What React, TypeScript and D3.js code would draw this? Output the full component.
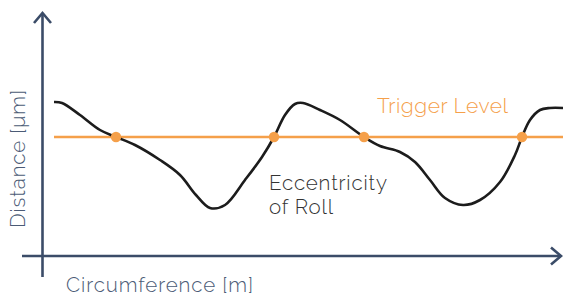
import React from 'react';
import * as d3 from 'd3';

// circumference position (px-ish units along the roll) and distance readings
const circumference = [12, 20, 38, 58, 74, 93, 118, 138, 154, 168, 183, 203, 220, 232, 243, 253, 261, 278, 298, 322, 338, 358, 373, 388, 403, 421, 438, 458, 473, 480, 488, 498, 508, 521];
const distance = [154, 153, 141, 126, 119, 111, 96, 81, 61, 48, 51, 76, 99, 119, 141, 152, 153, 146, 136, 119, 110, 104, 94, 76, 58, 51, 56, 74, 101, 119, 136, 146, 148, 148];
const triggerLevel = 119;
const crossings = [74, 232, 322, 480];

const W = 563, H = 297;
const axisColor = '#3b4c68';
const orange = '#f5a04a';
const font = 'Raleway, Lato, "Open Sans", sans-serif';

const App = () => {
  const x = d3.scaleLinear().domain([0, 520]).range([42, 562]);
  const y = d3.scaleLinear().domain([0, 250]).range([256, 6]);

  const line = d3.line<number>()
    .x((d, i) => x(circumference[i]))
    .y(d => y(d))
    .curve(d3.curveCatmullRom.alpha(0.5));

  return (
    <svg width={W} height={H} style={{ position: 'absolute', left: 0, top: 0 }}>
      {/* trigger level */}
      <line x1={x(12)} x2={W} y1={y(triggerLevel)} y2={y(triggerLevel)} stroke={orange} strokeWidth={2.5} />
      <path d={line(distance) || ''} fill="none" stroke="#1c1c1c" strokeWidth={2.6} />
      {crossings.map(c => (
        <circle key={c} cx={x(c)} cy={y(triggerLevel)} r={5.2} fill={orange} />
      ))}

      {/* axes */}
      <line x1={42.5} x2={42.5} y1={13} y2={277} stroke={axisColor} strokeWidth={2.6} />
      <polyline points="34,23 42.5,13 51,23" fill="none" stroke={axisColor} strokeWidth={2.6} />
      <line x1={22} x2={561} y1={256} y2={256} stroke={axisColor} strokeWidth={2.6} />
      <polyline points="551,247.5 561,256 551,264.5" fill="none" stroke={axisColor} strokeWidth={2.6} />

      <text x={66} y={292} fontFamily={font} fontWeight={300} fontSize={20.5} fill="#4b5b76" textLength={187} lengthAdjust="spacing">Circumference [m]</text>
      <text transform="translate(25,159) rotate(-90)" textAnchor="middle" fontFamily={font} fontWeight={300} fontSize={20.5} fill="#4b5b76" textLength={138} lengthAdjust="spacing">Distance [μm]</text>

      <text x={377} y={113} fontFamily={font} fontWeight={300} fontSize={21} fill={orange} textLength={131} lengthAdjust="spacing">Trigger Level</text>
      <text x={269} y={190} fontFamily={font} fontWeight={300} fontSize={20.5} fill="#333" textLength={118} lengthAdjust="spacing">Eccentricity</text>
      <text x={269} y={214} fontFamily={font} fontWeight={300} fontSize={20.5} fill="#333" textLength={64} lengthAdjust="spacing">of Roll</text>
    </svg>
  );
};

export default App;
